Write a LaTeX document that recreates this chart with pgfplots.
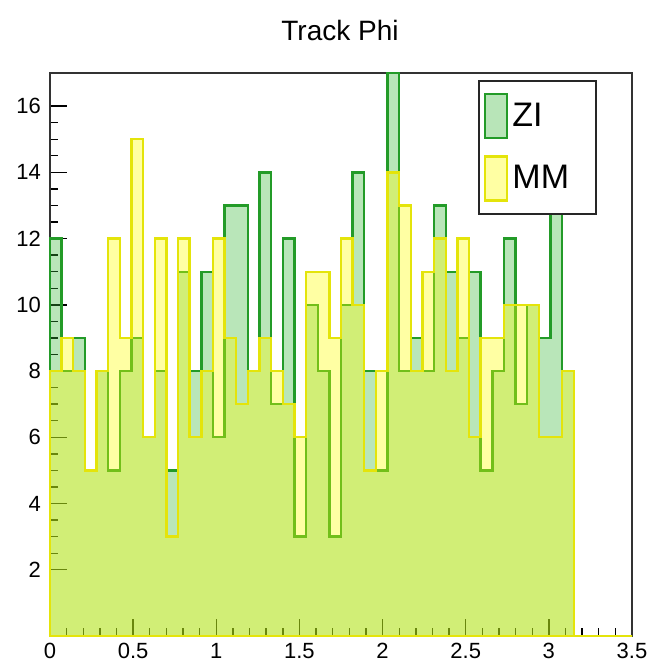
\documentclass[border=0pt]{standalone}
\usepackage{pgfplots}
\pgfplotsset{compat=1.18}
\usepackage{fontspec}
\setmainfont{Liberation Sans}
\definecolor{zline}{RGB}{35,155,40}
\definecolor{zfill}{RGB}{60,185,60}
\definecolor{mline}{RGB}{228,228,10}
\definecolor{mfill}{RGB}{255,255,0}
\pgfplotsset{tallbox/.style={legend image code/.code={\draw[#1] (0pt,-11pt) rectangle (11pt,11pt);}}}
\begin{document}
\begin{tikzpicture}[x=1pt,y=1pt]
\path[use as bounding box] (0,0) rectangle (325.5,331);
\node at (170,315.5) {\fontsize{14}{16}\selectfont Track Phi};
\begin{axis}[
  at={(25pt,13pt)}, anchor=south west,
  scale only axis, width=291pt, height=281.5pt,
  xmin=0, xmax=3.5, ymin=0, ymax=17,
  xtick={0,0.5,...,3.5}, ytick={2,4,...,16},
  minor x tick num=4, minor y tick num=3,
  xtick pos=left, ytick pos=left,
  tick align=inside,
  major tick length=8.5pt, minor tick length=4pt,
  axis line style={line width=1pt, black!80},
  every tick/.style={black, line width=0.7pt},
  tick label style={font=\fontsize{11}{12}\selectfont},
  yticklabel style={xshift=-1pt},
  /pgf/number format/assume math mode=true,
  legend style={at={(0.94,0.988)}, anchor=north east, draw=black!85, line width=1pt,
    fill=white, font=\fontsize{17}{20}\selectfont, inner xsep=2.5pt, inner ysep=6pt,
    row sep=8pt},
  legend cell align=left,
  tallbox,
  clip=false,
]
\addplot[const plot, draw=zline, line width=1.2pt, fill=zfill, fill opacity=0.36]
coordinates {
(0.00,12) (0.07,8) (0.14,9) (0.21,5) (0.28,8) (0.35,5) (0.42,8) (0.49,9) (0.56,6) (0.63,8)
(0.70,5) (0.77,11) (0.84,8) (0.91,11) (0.98,6) (1.05,13) (1.12,13) (1.19,8) (1.26,14) (1.33,7)
(1.40,12) (1.47,3) (1.54,10) (1.61,8) (1.68,3) (1.75,10) (1.82,14) (1.89,8) (1.96,5) (2.03,17)
(2.10,8) (2.17,9) (2.24,8) (2.31,13) (2.38,11) (2.45,9) (2.52,11) (2.59,5) (2.66,8) (2.73,12)
(2.80,7) (2.87,10) (2.94,9) (3.01,13) (3.08,8) (3.15,0) (3.5,0)
} \closedcycle;
\addlegendentry{ZI}
\addplot[const plot, draw=mline, line width=1.2pt, fill=mfill, fill opacity=0.36]
coordinates {
(0.00,8) (0.07,9) (0.14,8) (0.21,5) (0.28,8) (0.35,12) (0.42,9) (0.49,15) (0.56,6) (0.63,12)
(0.70,3) (0.77,12) (0.84,6) (0.91,8) (0.98,12) (1.05,9) (1.12,7) (1.19,8) (1.26,9) (1.33,8)
(1.40,7) (1.47,6) (1.54,11) (1.61,11) (1.68,9) (1.75,12) (1.82,10) (1.89,5) (1.96,8) (2.03,14)
(2.10,13) (2.17,8) (2.24,11) (2.31,12) (2.38,8) (2.45,12) (2.52,6) (2.59,9) (2.66,9) (2.73,10)
(2.80,10) (2.87,10) (2.94,6) (3.01,6) (3.08,8) (3.15,0) (3.5,0)
} \closedcycle;
\addlegendentry{MM\hspace*{9pt}}
\end{axis}
\end{tikzpicture}
\end{document}
